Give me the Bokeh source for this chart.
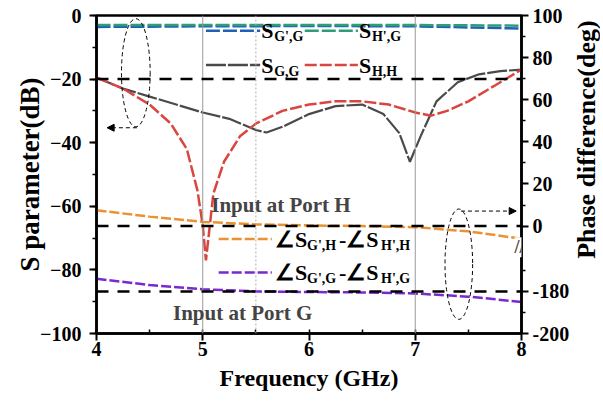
import numpy as np
from bokeh.plotting import figure
from bokeh.layouts import row
from bokeh.models import (Range1d, LinearAxis, FixedTicker, SingleIntervalTicker,
                          Span, Label, Arrow, NormalHead)
from bokeh.embed import file_html
from bokeh.resources import INLINE

# ---------------- data ----------------
freq_flat = [4.0, 5.0, 6.0, 7.0, 8.0]
s_gpg = [-3.6, -3.4, -3.3, -3.4, -4.1]      # S_G',G (blue)
s_hpg = [-3.0, -3.0, -3.0, -3.0, -3.2]      # S_H',G (green)

freq_gg = [4.0, 4.25, 4.5, 4.75, 5.0, 5.25, 5.5, 5.6, 5.75, 6.0, 6.25, 6.5, 6.7,
           6.85, 6.95, 7.05, 7.2, 7.4, 7.6, 7.8, 8.0]
s_gg = [-19.5, -23.0, -25.5, -28.0, -30.5, -32.5, -36.0, -36.8, -35.0, -31.0, -28.5,
        -28.0, -31.0, -37.0, -46.0, -38.0, -27.0, -21.0, -18.5, -17.5, -17.0]

freq_hh = [4.0, 4.25, 4.5, 4.7, 4.85, 4.95, 5.0, 5.03, 5.06, 5.1, 5.2, 5.35, 5.5,
           5.75, 6.0, 6.25, 6.5, 6.75, 7.0, 7.15, 7.3, 7.5, 7.75, 8.0]
s_hh = [-19.5, -23.0, -28.0, -34.0, -42.0, -55.0, -66.0, -77.0, -68.0, -56.0, -46.0,
        -38.0, -34.0, -30.0, -28.0, -27.0, -27.0, -28.0, -30.5, -31.5, -30.0, -27.0,
        -22.0, -17.0]

freq_ph = [4.0, 4.5, 5.0, 5.5, 6.0, 6.5, 7.0, 7.5, 8.0]
ph_h = [7.5, 4.5, 2.0, 0.8, 0.3, 0.0, -0.5, -2.5, -6.0]                          # input at port H
ph_g = [-174.0, -177.0, -179.0, -180.0, -180.3, -180.5, -181.0, -182.5, -185.0]  # input at port G

phase_ticks = [100, 80, 60, 40, 20, 0, -180, -200]
phase_minor = [90, 70, 50, 30, 10, -170, -190]
BREAK_SHIFT = 149.0   # broken right axis: values below the break are shifted up


def to_disp(v):
    v = np.asarray(v, dtype=float)
    return np.where(v > -90, v, v + BREAK_SHIFT)


FONT = "Liberation Serif"

p = figure(width=572, height=410, output_backend="svg", toolbar_location=None,
           x_range=Range1d(4, 8), y_range=Range1d(-100, 0),
           min_border_left=96, min_border_right=51, min_border_top=15,
           min_border_bottom=77)
p.extra_y_ranges = {"phase": Range1d(-51, 100)}
p.xgrid.visible = False
p.ygrid.visible = False
p.outline_line_color = "black"
p.outline_line_width = 2.5
p.background_fill_color = "white"
p.border_fill_color = "white"


def style_axis(ax, size="20px"):
    ax.axis_line_width = 2.5
    ax.major_tick_line_width = 2
    ax.minor_tick_line_width = 1.5
    ax.major_label_text_font = FONT
    ax.major_label_text_font_style = "bold"
    ax.major_label_text_font_size = size
    ax.major_label_text_color = "black"
    ax.axis_label_text_font = FONT
    ax.axis_label_text_font_style = "bold"
    ax.axis_label_text_color = "black"


xa = p.xaxis[0]
style_axis(xa)
xa.ticker = SingleIntervalTicker(interval=1, num_minor_ticks=2)
xa.major_tick_out = 7
xa.major_tick_in = 0
xa.minor_tick_in = 4
xa.minor_tick_out = 0
xa.major_label_standoff = 1
xa.axis_label = "Frequency (GHz)"
xa.axis_label_text_font_size = "24px"
xa.axis_label_standoff = 6

ya = p.yaxis[0]
style_axis(ya)
ya.ticker = SingleIntervalTicker(interval=20, num_minor_ticks=2)
ya.major_tick_out = 7
ya.major_tick_in = 0
ya.minor_tick_out = 4
ya.minor_tick_in = 0
ya.major_label_standoff = 8
ya.axis_label = "S parameter(dB)"
ya.axis_label_text_font_size = "27px"
ya.axis_label_standoff = -8

tick_disp = [float(t) for t in to_disp(phase_ticks)]
minor_disp = [float(t) for t in to_disp(phase_minor)]
ra = LinearAxis(y_range_name="phase",
                ticker=FixedTicker(ticks=tick_disp, minor_ticks=minor_disp))
style_axis(ra)
ra.major_label_overrides = {d: str(t) for d, t in zip(tick_disp, phase_ticks)}
ra.major_tick_out = 7
ra.major_tick_in = 0
ra.minor_tick_out = 4
ra.minor_tick_in = 0
ra.major_label_standoff = 4
p.add_layout(ra, "right")

# reference vertical lines
for loc, dash, col in [(5.0, "solid", "#9a9a9a"), (5.5, "2 2", "#b0b0b0"), (7.0, "solid", "#9a9a9a")]:
    p.add_layout(Span(location=loc, dimension="height", line_color=col,
                      line_width=1, line_dash=dash))

# dashed reference lines
p.add_layout(Span(location=-20, dimension="width", line_color="black",
                  line_width=2.5, line_dash="12 9"))
for loc in to_disp([0, -180]):
    p.add_layout(Span(location=float(loc), dimension="width", line_color="black",
                      line_width=2.5, line_dash="12 9", y_range_name="phase"))

# curves
p.line(freq_flat, s_gpg, line_color="#2060b8", line_width=2.5, line_dash="14 3")
p.line(freq_flat, s_hpg, line_color="#2e9e78", line_width=2.5, line_dash="14 3")
p.line(freq_gg, s_gg, line_color="#4a4a4a", line_width=2.2, line_dash="20 2")
p.line(freq_hh, s_hh, line_color="#d94640", line_width=2.5, line_dash="12 3")
p.line(freq_ph, to_disp(ph_h), y_range_name="phase", line_color="#ea9230",
       line_width=2.5, line_dash="10 3")
p.line(freq_ph, to_disp(ph_g), y_range_name="phase", line_color="#7a28d0",
       line_width=2.5, line_dash="10 3")

# axis break mark (kept just inside the frame)
p.add_layout(Label(x=8, y=-10, x_offset=3, y_range_name="phase", text="//", text_font=FONT,
                   text_font_style="bold", text_font_size="18px",
                   text_align="right", text_baseline="middle",
                   background_fill_color="white"))


# ---------------- legend (manual, with subscripts) ----------------
def sub_label(x, y, parts):
    for text, off, big in parts:
        p.add_layout(Label(x=x, y=y, x_offset=off, y_offset=0 if big else -6,
                           text=text, text_font=FONT, text_font_style="bold",
                           text_font_size="22px" if big else "14px",
                           text_baseline="middle", text_color="black"))


leg_rows = [
    (5.03, 5.54, -4.8, "#2060b8", "14 3", "G',G"),
    (5.96, 6.46, -4.8, "#2e9e78", "14 3", "H',G"),
    (5.03, 5.54, -15.6, "#4a4a4a", "20 2", "G,G"),
    (5.96, 6.46, -15.6, "#d94640", "12 3", "H,H"),
]
for x0, x1, yy, col, dash, sub in leg_rows:
    p.line([x0, x1], [yy, yy], line_color=col, line_width=2.5, line_dash=dash)
    sub_label(x1, yy, [("S", 1, True), (sub, 14, False)])

phase_leg = [(-70.3, "#ea9230", "G',H", "H',H"), (-80.8, "#7a28d0", "G',G", "H',G")]
for yy, col, s1, s2 in phase_leg:
    p.line([5.15, 5.65], [yy, yy], line_color=col, line_width=2.5, line_dash="10 3")
    sub_label(5.68, yy, [("∠S", 0, True), (s1, 32, False), ("-∠S", 64, True), (s2, 106, False)])

p.add_layout(Label(x=5.08, y=-59.5, text="Input at Port H", text_font=FONT,
                   text_font_style="bold", text_font_size="21px", text_baseline="middle"))
p.add_layout(Label(x=4.72, y=-93.7, text="Input at Port G", text_font=FONT,
                   text_font_style="bold", text_font_size="21px", text_baseline="middle"))

# ellipses and arrows
p.ellipse(x=4.37, y=-18, width=0.27, height=34, fill_alpha=0, line_color="black",
          line_width=1, line_dash="4 3")
p.ellipse(x=7.41, y=-78.2, width=0.26, height=34.7, fill_alpha=0, line_color="black",
          line_width=1, line_dash="4 3")
p.add_layout(Arrow(x_start=4.38, y_start=-35.3, x_end=4.1, y_end=-35.3,
                   line_color="black", line_width=1, line_dash="4 3",
                   end=NormalHead(size=7, fill_color="black", line_color="black")))
p.add_layout(Arrow(x_start=7.43, y_start=-61.5, x_end=7.95, y_end=-61.5,
                   line_color="black", line_width=1, line_dash="4 3",
                   end=NormalHead(size=7, fill_color="black", line_color="black")))

# ---------------- right-hand title strip (text reads bottom-to-top) ----------------
p2 = figure(width=28, height=410, output_backend="svg", toolbar_location=None,
            x_range=Range1d(0, 28), y_range=Range1d(410, 0),
            min_border_left=0, min_border_right=0, min_border_top=0, min_border_bottom=0)
p2.axis.visible = False
p2.grid.visible = False
p2.outline_line_color = None
p2.background_fill_color = "white"
p2.border_fill_color = "white"
p2.add_layout(Label(x=14, y=160, text="Phase difference(deg)", angle=np.pi / 2,
                    text_font=FONT, text_font_style="bold", text_font_size="26px",
                    text_align="center", text_baseline="middle", text_color="black"))

layout = row(p, p2)
open("out.html", "w").write(file_html(layout, INLINE))
